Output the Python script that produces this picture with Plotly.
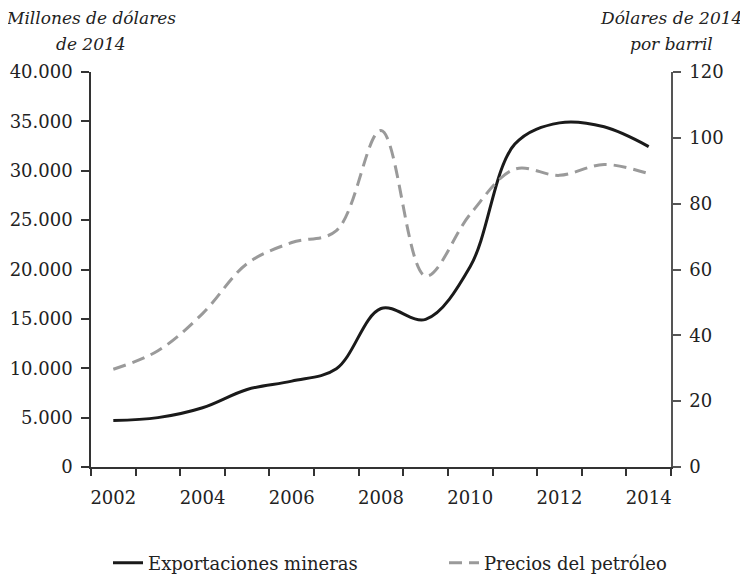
import plotly.graph_objects as go

years = [2002, 2003, 2004, 2005, 2006, 2007, 2008, 2009, 2010, 2011, 2012, 2013, 2014]
exportaciones = [4700, 5000, 6000, 7850, 8700, 9950, 16050, 14950, 20300, 32700, 34850, 34450, 32450]
petroleo = [29.7, 35.3, 46.6, 61.8, 68.2, 71.8, 102.2, 58.0, 76.8, 90.5, 88.6, 91.9, 89.1]

xtick_labels = ["2002", "2004", "2006", "2008", "2010", "2012", "2014"]
xtick_vals = [2002, 2004, 2006, 2008, 2010, 2012, 2014]

FONT = "DejaVu Serif"
TXT = "#222222"
W, H = 740, 569  # page body has an 8px margin in the browser

fig = go.Figure()
fig.add_trace(go.Scatter(
    x=years, y=exportaciones, name="Exportaciones mineras", mode="lines",
    line=dict(color="#1a1a1a", width=3, shape="spline", smoothing=1.0),
    yaxis="y", legend="legend"))
fig.add_trace(go.Scatter(
    x=years, y=petroleo, name="Precios del petróleo", mode="lines",
    line=dict(color="#9a9a9a", width=3, dash="13px,7px", shape="spline", smoothing=1.0),
    yaxis="y2", legend="legend2"))

leg_common = dict(orientation="h", xref="container", yref="container",
                  xanchor="left", y=1 - 555 / H, yanchor="middle",
                  font=dict(family=FONT, size=18, color=TXT), bgcolor="rgba(0,0,0,0)")

fig.update_layout(
    width=W, height=H,
    margin=dict(l=83, r=77, t=64, b=110, autoexpand=False),
    paper_bgcolor="white", plot_bgcolor="white",
    separators=",.",
    font=dict(family=FONT, size=18, color=TXT),
    showlegend=True,
    legend=dict(x=100 / W, **leg_common),
    legend2=dict(x=436 / W, **leg_common),
    xaxis=dict(
        range=[2001.5, 2014.5], tickvals=xtick_vals, ticktext=xtick_labels,
        ticks="", showgrid=False, zeroline=False,
        showline=True, linecolor="#333333", linewidth=1.5,
        ticklabelstandoff=14,
        minor=dict(tickvals=[y - 0.5 for y in years] + [years[-1] + 0.5],
                   ticks="outside", ticklen=7, tickwidth=1.5, tickcolor="#333333", showgrid=False),
    ),
    yaxis=dict(
        range=[0, 40000], dtick=5000, tickformat=",d",
        showgrid=False, zeroline=False,
        showline=True, linecolor="#333333", linewidth=1.5,
        ticks="outside", ticklen=8, tickwidth=1.5, tickcolor="#333333",
        ticklabelstandoff=5,
    ),
    yaxis2=dict(
        range=[0, 120], dtick=20, overlaying="y", side="right",
        showgrid=False, zeroline=False,
        showline=True, linecolor="#555555", linewidth=1.5,
        ticks="outside", ticklen=8, tickwidth=1.5, tickcolor="#555555",
        ticklabelstandoff=5,
    ),
)

ann_font = dict(family=FONT, size=17, color=TXT, style="italic")
for x, lines in [(0, ["Millones de dólares", "de 2014"]), (1, ["Dólares de 2014", "por barril"])]:
    for i, t in enumerate(lines):
        fig.add_annotation(text=t, xref="paper", yref="paper", x=x, y=[1.136, 1.072][i],
                           xanchor="center", yanchor="middle", showarrow=False, font=ann_font)

fig.write_html("out.html")
